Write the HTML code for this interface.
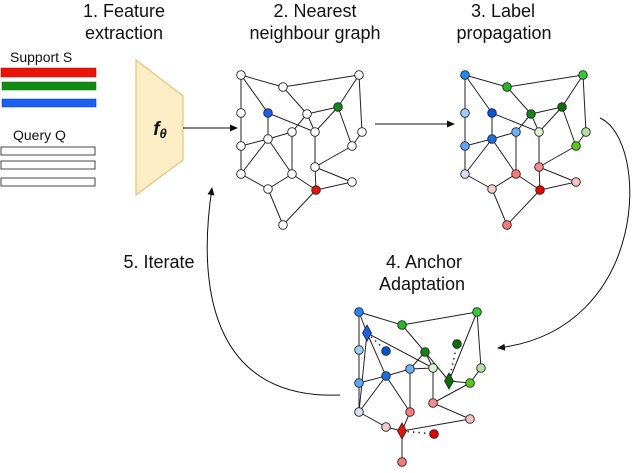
<!DOCTYPE html>
<html><head><meta charset="utf-8"><style>
body{margin:0;background:#fff;width:640px;height:468px;overflow:hidden}
text{font-family:"Liberation Sans",sans-serif;fill:#111}
</style></head><body>
<svg id="s" width="640" height="468" viewBox="0 0 640 468" xmlns="http://www.w3.org/2000/svg">
<defs><marker id="ah" markerWidth="8" markerHeight="8" refX="7" refY="4" orient="auto" markerUnits="userSpaceOnUse"><path d="M0,0.5 L8,4 L0,7.5 z" fill="#111"/></marker></defs>
<g font-size="18" text-anchor="middle">
<text x="124" y="17">1. Feature</text><text x="124" y="39">extraction</text>
<text x="315" y="17">2. Nearest</text><text x="315" y="39">neighbour graph</text>
<text x="503" y="17">3. Label</text><text x="504" y="39">propagation</text>
<text x="424" y="268">4. Anchor</text><text x="422" y="290">Adaptation</text>
<text x="159" y="268">5. Iterate</text>
</g>
<text x="10" y="62" font-size="14">Support S</text>
<text x="13" y="140" font-size="14">Query Q</text>
<rect x="1" y="68" width="95" height="9" fill="#e8140a" stroke="#c00" stroke-width="0.5"/>
<rect x="2" y="82" width="94" height="8" fill="#128a12" stroke="#070" stroke-width="0.5"/>
<rect x="2" y="99" width="94" height="8" fill="#1a5ff0" stroke="#03c" stroke-width="0.5"/>
<rect x="1" y="147" width="94" height="8" fill="#fff" stroke="#444"/>
<rect x="1" y="161" width="94" height="8" fill="#fff" stroke="#444"/>
<rect x="1" y="178" width="94" height="8" fill="#fff" stroke="#444"/>
<polygon points="136,60 183,96 183,160 136,195" fill="#fdeec6" stroke="#e6c27a" stroke-width="1.2"/>
<text x="160" y="135" font-size="19" font-family="Liberation Serif" font-style="italic" font-weight="bold" text-anchor="middle">f<tspan font-size="13" dy="3">θ</tspan></text>
<g stroke="#111" stroke-width="1" fill="none">
<line x1="183" y1="128" x2="237" y2="128" marker-end="url(#ah)"/>
<line x1="375" y1="124" x2="454" y2="124" marker-end="url(#ah)"/>
<path d="M600,118 C650,140 650,330 498,348" marker-end="url(#ah)"/>
<path d="M340,395 C220,400 195,300 212,188" marker-end="url(#ah)"/>
</g>
<g id="g"></g>
</svg>
<script>
var E=[["A","B"],["A","D"],["A","E"],["B","C"],["B","F"],["C","G"],["C","J"],["D","L"],["E","K"],["E","I"],["F","G"],["F","I"],["G","I"],["G","M"],["H","K"],["H","P"],["H","F"],["I","N"],["K","L"],["K","O"],["K","P"],["L","O"],["O","Q"],["Q","P"],["Q","T"],["P","R"],["R","T"],["R","N"],["N","M"],["N","S"],["R","S"],["M","J"]];
var P1={A:[241,75],B:[283,87],C:[359,75],D:[241,113],E:[268,113],F:[307,114],G:[338,107],H:[292,132],I:[315,132],J:[362,132],K:[268,139],L:[241,146],M:[352,146],N:[315,167],O:[241,174],P:[292,174],Q:[268,189],R:[316,190],S:[352,182],T:[283,225]};
var C1={E:"#1a5ff0",G:"#128a12",R:"#e8140a"};
var C2={A:"#1e88ff",B:"#22bb22",C:"#33cc33",D:"#9cd0ff",E:"#0055dd",F:"#118811",G:"#0a700a",H:"#6ab0ff",I:"#d8f5d0",J:"#b5e0a5",K:"#1a6fe8",L:"#5aa8ff",M:"#55cc11",N:"#ff8888",O:"#d8e0f5",P:"#ff7777",Q:"#f8c8c8",R:"#e00",S:"#f8c0c0",T:"#ff7777"};
var P3={A:[359,312],B:[402,325],C:[477,312],D:[359,350],E:[386,351],F:[425,352],G:[457,344],H:[410,369],I:[433,368],J:[481,368],K:[386,376],L:[359,383],M:[470,383],N:[433,403],O:[359,412],P:[410,412],Q:[386,427],R:[434,434],S:[470,419],T:[402,462],BD:[367,333],GD:[449,381],RD:[402,431]};
var E3=[["A","B"],["A","D"],["A","BD"],["B","C"],["B","F"],["C","GD"],["C","J"],["D","L"],["BD","K"],["BD","I"],["BD","O"],["F","GD"],["F","I"],["GD","M"],["H","K"],["H","P"],["H","F"],["I","N"],["K","L"],["K","O"],["K","P"],["L","O"],["O","Q"],["RD","P"],["RD","Q"],["RD","T"],["RD","S"],["N","M"],["N","S"],["M","J"],["I","H"]];
var s="";
function draw(P,EL,C,dx){
 EL.forEach(function(e){var a=P[e[0]],b=P[e[1]];s+='<line x1="'+(a[0]+dx)+'" y1="'+a[1]+'" x2="'+(b[0]+dx)+'" y2="'+b[1]+'" stroke="#222" stroke-width="1"/>';});
}
function nodes(P,C,dx){for(var k in P){if(k.length>1)continue;var p=P[k];s+='<circle cx="'+(p[0]+dx)+'" cy="'+p[1]+'" r="4.3" fill="'+(C[k]||"#fff")+'" stroke="#222" stroke-width="0.9"/>';}}
draw(P1,E,C1,0);nodes(P1,C1,0);
draw(P1,E,C2,224);nodes(P1,C2,224);
s+='<g stroke="#333" stroke-width="1.6" stroke-dasharray="1.5,4"><line x1="367" y1="333" x2="386" y2="351"/><line x1="449" y1="381" x2="457" y2="344"/><line x1="402" y1="431" x2="434" y2="434"/></g>';
draw(P3,E3,C2,0);nodes(P3,C2,0);
function dia(p,c){s+='<polygon points="'+p[0]+','+(p[1]-8)+' '+(p[0]+4.5)+','+p[1]+' '+p[0]+','+(p[1]+8)+' '+(p[0]-4.5)+','+p[1]+'" fill="'+c+'" stroke="#222" stroke-width="0.8"/>';}
dia(P3.BD,"#1a5ff0");dia(P3.GD,"#0a700a");dia(P3.RD,"#e8140a");
document.getElementById("g").innerHTML=s;
</script>
</body></html>
